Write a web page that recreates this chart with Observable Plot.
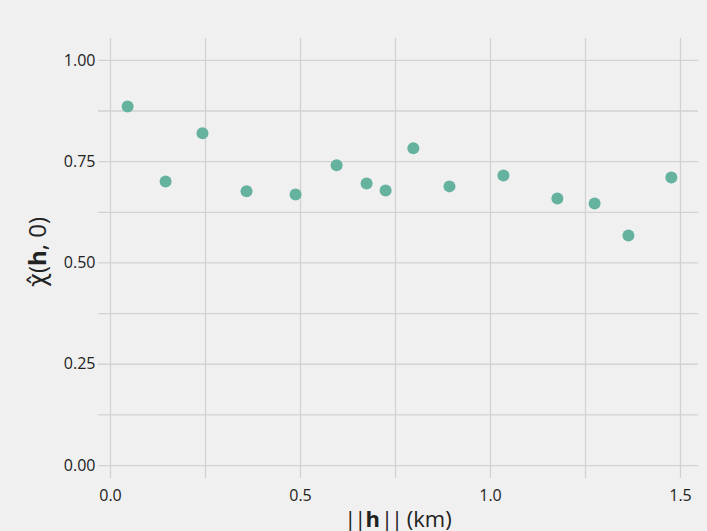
<!DOCTYPE html>
<html>
<head>
<meta charset="utf-8">
<script src="https://cdn.jsdelivr.net/npm/d3@7"></script>
<script src="https://cdn.jsdelivr.net/npm/@observablehq/plot@0.6"></script>
<style>
  html, body { margin: 0; padding: 0; background: #f0f0f0; }
  #chart svg { display: block; }
</style>
</head>
<body>
<div id="chart"></div>
<script>
// Data
const distance = [0.045, 0.145, 0.242, 0.358, 0.487, 0.595, 0.674, 0.724, 0.797, 0.892, 1.034, 1.176, 1.274, 1.363, 1.476];
const chi      = [0.886, 0.701, 0.820, 0.677, 0.669, 0.741, 0.696, 0.679, 0.783, 0.689, 0.716, 0.659, 0.647, 0.568, 0.711];
const xTicks = [0, 0.5, 1.0, 1.5];
const yTicks = [0, 0.25, 0.5, 0.75, 1.0];
const xGrid = [0, 0.25, 0.5, 0.75, 1.0, 1.25, 1.5];
const yGrid = [0, 0.125, 0.25, 0.375, 0.5, 0.625, 0.75, 0.875, 1.0];

const data = distance.map((d, i) => ({ d, chi: chi[i] }));

const plot = Plot.plot({
  width: 707,
  height: 531,
  marginLeft: 98,
  marginRight: 9,
  marginTop: 38,
  marginBottom: 53,
  style: { background: "#f0f0f0", fontFamily: "'Open Sans', 'Noto Sans', sans-serif", fontSize: "16px", color: "#222" },
  x: { domain: [-0.0316, 1.5474], label: null },
  y: { domain: [-0.032, 1.054], label: null },
  marks: [
    Plot.ruleX(xGrid, { stroke: "#d2d2d2", strokeWidth: 1.3 }),
    Plot.ruleY(yGrid, { stroke: "#d2d2d2", strokeWidth: 1.3 }),
    Plot.axisX(xTicks, { tickSize: 0, tickPadding: 11, tickFormat: d3.format(".1f"), fontSize: 16, fill: "#222", label: null }),
    Plot.axisY(yTicks, { tickSize: 0, tickPadding: 3, tickFormat: d3.format(".2f"), fontSize: 16, fill: "#222", label: null }),
    Plot.dot(data, { x: "d", y: "chi", r: 6, fill: "#65b29e", stroke: "none" })
  ]
});

document.getElementById("chart").appendChild(plot);

// Axis titles with bold "h"
const svg = d3.select(plot);
const font = "'Open Sans', 'Noto Sans', sans-serif";
const xt = svg.append("text")
  .attr("x", 398).attr("y", 527)
  .attr("text-anchor", "middle")
  .attr("font-family", font).attr("font-size", 22).attr("fill", "#222");
xt.append("tspan").attr("letter-spacing", "-2").text("||");
xt.append("tspan").attr("font-weight", "bold").attr("dx", 1).text("h");
xt.append("tspan").attr("letter-spacing", "-2").attr("dx", 1).text("||");
xt.append("tspan").text(" (km)");

const yt = svg.append("text")
  .attr("transform", "translate(46,252) rotate(-90)")
  .attr("text-anchor", "middle")
  .attr("font-family", font).attr("font-size", 24).attr("fill", "#222");
yt.append("tspan").attr("font-family", "'DejaVu Sans', sans-serif").text("\u03C7\u0302");
yt.append("tspan").text("(");
yt.append("tspan").attr("font-weight", "bold").text("h");
yt.append("tspan").text(", 0)");
</script>
</body>
</html>
